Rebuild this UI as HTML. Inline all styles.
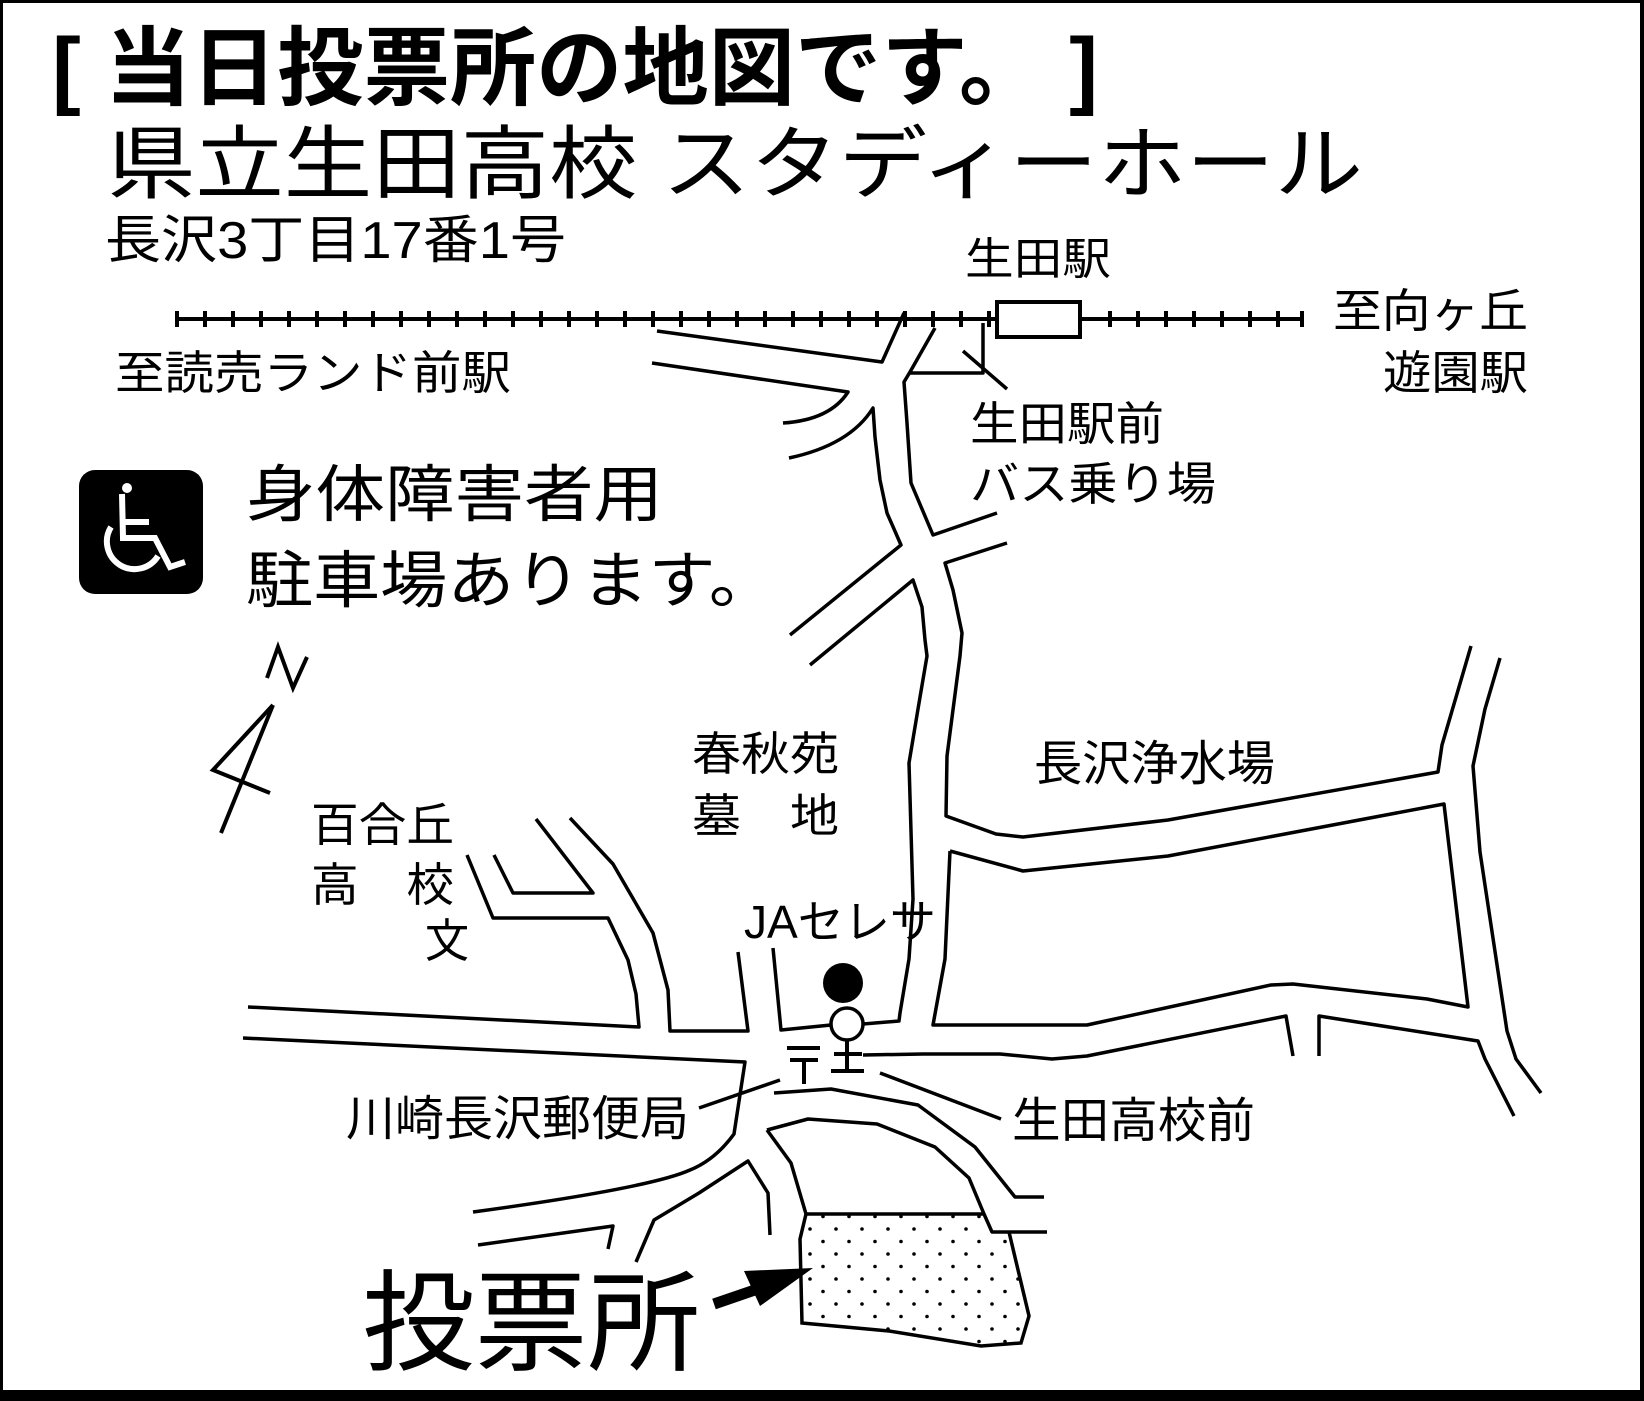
<!DOCTYPE html>
<html><head><meta charset="utf-8"><style>
html,body{margin:0;padding:0;background:#fff;}
svg{display:block;}
text{font-family:"Liberation Sans","Noto Sans CJK JP",sans-serif;fill:#000;}
</style></head><body>
<svg width="1644" height="1401" viewBox="0 0 1644 1401" xmlns="http://www.w3.org/2000/svg">
<defs>
<pattern id="dots" width="26" height="25" patternUnits="userSpaceOnUse">
<circle cx="4" cy="4" r="1.8" fill="#000"/>
<circle cx="17" cy="16.5" r="1.8" fill="#000"/>
</pattern>
</defs>
<rect x="0" y="0" width="1644" height="1401" fill="#fff"/>
<rect x="0" y="0" width="1644" height="3" fill="#000"/>
<rect x="0" y="0" width="3" height="1401" fill="#000"/>
<rect x="1640" y="0" width="4" height="1401" fill="#000"/>
<rect x="0" y="1390" width="1644" height="11" fill="#000"/>

<text x="52" y="98" font-size="86" font-weight="bold" textLength="1046" lengthAdjust="spacingAndGlyphs">[ 当日投票所の地図です。 ]</text>
<text x="107" y="192" font-size="80" textLength="1256" lengthAdjust="spacingAndGlyphs">県立生田高校 スタディーホール</text>
<text x="105" y="258" font-size="52" textLength="461" lengthAdjust="spacingAndGlyphs">長沢3丁目17番1号</text>

<g stroke="#000" fill="none" stroke-width="4">
<line x1="176" y1="319" x2="997" y2="319"/>
<line x1="1080" y1="319" x2="1303" y2="319"/>
<rect x="997" y="302" width="83" height="35" fill="#fff"/>
</g>
<g stroke="#000" stroke-width="4">
<path d="M177 311v16M205 311v16M233 311v16M261 311v16M289 311v16M317 311v16M345 311v16M373 311v16M401 311v16M429 311v16M457 311v16M485 311v16M513 311v16M541 311v16M569 311v16M597 311v16M625 311v16M653 311v16M681 311v16M709 311v16M737 311v16M765 311v16M793 311v16M821 311v16M849 311v16M877 311v16M905 311v16M933 311v16M961 311v16M989 311v16M1110 311v16M1138 311v16M1166 311v16M1194 311v16M1222 311v16M1250 311v16M1278 311v16M1302 311v16"/>
</g>
<text x="965" y="274" font-size="44" textLength="146" lengthAdjust="spacingAndGlyphs">生田駅</text>
<text x="1333" y="327" font-size="46" textLength="195" lengthAdjust="spacingAndGlyphs">至向ヶ丘</text>
<text x="1383" y="389" font-size="46" textLength="145" lengthAdjust="spacingAndGlyphs">遊園駅</text>
<text x="115" y="389" font-size="46" textLength="396" lengthAdjust="spacingAndGlyphs">至読売ランド前駅</text>
<text x="970" y="440" font-size="46" textLength="194" lengthAdjust="spacingAndGlyphs">生田駅前</text>
<text x="970" y="500" font-size="46" textLength="246" lengthAdjust="spacingAndGlyphs">バス乗り場</text>

<rect x="79" y="470" width="124" height="124" rx="16" fill="#000"/>
<g stroke="#fff" fill="none" stroke-width="6">
<circle cx="127" cy="488" r="5" fill="#fff" stroke="none"/>
<path d="M122 494 L123 538 L155 538 L170 567 L185 562"/>
<path d="M123 522 L149 522"/>
<path d="M111 527 A27 27 0 1 0 158 556"/>
</g>
<text x="246" y="516" font-size="62" textLength="417" lengthAdjust="spacingAndGlyphs">身体障害者用</text>
<text x="246" y="602" font-size="62" textLength="530" lengthAdjust="spacingAndGlyphs">駐車場あります。</text>

<g stroke="#000" fill="none" stroke-width="4">
<path d="M267 678 L278 647 L293 688 L307 657"/>
<path d="M273 705 L213 770 L270 793"/>
<path d="M273 705 L221 833"/>
</g>

<g stroke="#000" fill="none" stroke-width="3.5" stroke-linejoin="round">
<path d="M657 331 L882 362 L904 313"/>
<path d="M652 363 L848 392 Q830 420 783 423"/>
<path d="M789 458 Q850 445 873 408 L875 437 L880 480 L887 513 L901 545 L790 635"/>
<path d="M935 328 L910 372 L904 382 L907 423 L911 483 L933 535 L997 513"/>
<path d="M910 373 L983 373 L983 323"/>
<path d="M963 351 L1007 389"/>
<path d="M1007 543 L945 563 L953 590 L962 633 L960 656 L947 756 L946 816 L996 834 L1023 837 L1168 820 L1438 772 L1442 745 L1471 646"/>
<path d="M810 665 L913 580 L922 607 L925 640 L927 656 L918 709 L909 763 L913 899 L909 959 L900 1013 L899 1021 L863 1024"/>
<path d="M950 851 L1023 871 L1168 856 L1444 804 L1468 1007 L1427 999 L1293 984 L1271 985 L1087 1025 L933 1025 L945 959 L950 851"/>
<path d="M1500 658 L1485 709 L1473 766 L1480 852 L1507 1031 L1516 1059 L1541 1093"/>
<path d="M863 1055 L923 1054 L1000 1054 L1052 1059 L1087 1056 L1286 1016 L1293 1056"/>
<path d="M1319 1056 L1319 1016 L1478 1041 L1485 1059 L1514 1116"/>
<path d="M248 1007 L639 1027 L636 994 L628 960 L608 918 L493 918 L467 855"/>
<path d="M494 855 L513 893 L593 893 L536 819"/>
<path d="M570 818 L613 864 L653 933 L668 990 L670 1031 L748 1031 L738 952"/>
<path d="M773 948 L781 1030 L831 1025"/>
<path d="M243 1038 L745 1062 L734 1134 Q715 1160 690 1170 Q650 1188 473 1212"/>
<path d="M774 1093 L831 1089 L918 1105 L975 1147 L1015 1197 L1044 1197"/>
<path d="M478 1245 L613 1226 L608 1249"/>
<path d="M636 1262 L654 1220 L699 1193 L748 1161 L768 1193 L770 1235"/>
<path d="M767 1130 L808 1119 L877 1124 L935 1147 L969 1178 L984 1214 L992 1232 L1047 1232"/>
<path d="M880 1073 L1001 1119"/>
<path d="M699 1108 L780 1080"/>
</g>
<path d="M806 1214 L984 1214 L992 1232 L1009 1232 L1029 1316 L1021 1343 L981 1346 L889 1331 L802 1323 L800 1239 Z" fill="url(#dots)" stroke="none"/>
<path d="M767 1130 L791 1163 L806 1214 L800 1239 L802 1323 L889 1331 L981 1346 L1021 1343 L1029 1316 L1009 1232" fill="none" stroke="#000" stroke-width="3.5"/>
<line x1="806" y1="1214" x2="984" y2="1214" stroke="#000" stroke-width="3.5"/>

<ellipse cx="843" cy="983" rx="20" ry="20" fill="#000"/>
<circle cx="847" cy="1024" r="16" fill="#fff" stroke="#000" stroke-width="3.5"/>
<g stroke="#000" stroke-width="4" fill="none">
<path d="M847 1040 V1071 M834 1054 H862 M831 1071 H864"/>
<path d="M787 1048 H820 M790 1060 H818 M804 1060 V1084"/>
</g>

<text x="692" y="770" font-size="46" textLength="147" lengthAdjust="spacingAndGlyphs">春秋苑</text>
<text x="692" y="832" font-size="46" textLength="147" lengthAdjust="spacingAndGlyphs">墓　地</text>
<text x="1034" y="780" font-size="48" textLength="241" lengthAdjust="spacingAndGlyphs">長沢浄水場</text>
<text x="311" y="841" font-size="46" textLength="143" lengthAdjust="spacingAndGlyphs">百合丘</text>
<text x="311" y="901" font-size="46" textLength="143" lengthAdjust="spacingAndGlyphs">高　校</text>
<text x="425" y="957" font-size="46" textLength="44" lengthAdjust="spacingAndGlyphs">文</text>
<text x="744" y="938" font-size="46" textLength="192" lengthAdjust="spacingAndGlyphs">JAセレサ</text>
<text x="346" y="1135" font-size="48" textLength="343" lengthAdjust="spacingAndGlyphs">川崎長沢郵便局</text>
<text x="1012" y="1137" font-size="48" textLength="243" lengthAdjust="spacingAndGlyphs">生田高校前</text>
<text x="362" y="1362" font-size="110" textLength="338" lengthAdjust="spacingAndGlyphs">投票所</text>

<line x1="714" y1="1304" x2="775" y2="1283" stroke="#000" stroke-width="11"/>
<polygon points="813,1268 744,1271 760,1306" fill="#000"/>
</svg>
</body></html>
